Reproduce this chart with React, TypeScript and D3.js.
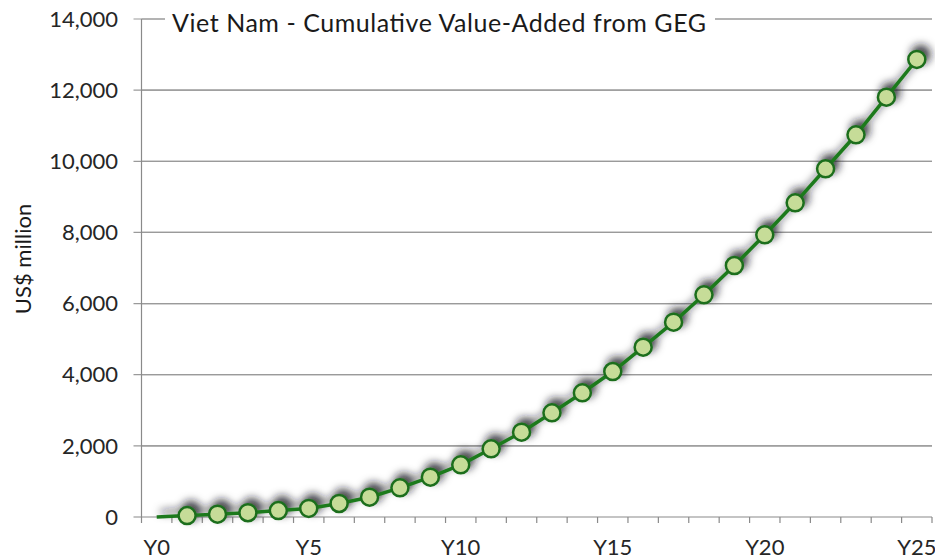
import React from "react";
import * as d3 from "d3";

const categories: string[] = Array.from({ length: 26 }, (_, i) => `Y${i}`);
const values: number[] = [
  0, 40, 80, 120, 180, 240, 380, 557, 820, 1120, 1467, 1917, 2384, 2930, 3492,
  4090, 4774, 5477, 6247, 7070, 7934, 8833, 9789, 10745, 11802, 12862,
];
const yTicks: number[] = [0, 2000, 4000, 6000, 8000, 10000, 12000, 14000];
const xLabelEvery = 5;
const title = "Viet Nam - Cumulative Value-Added from GEG";
const yTitle = "US$ million";

const W = 935;
const H = 560;
const M = { left: 141.5, right: 3, top: 19, bottom: 43 };
const FONT = "Lato, 'Open Sans', sans-serif";

export default function App() {
  const x = d3
    .scaleBand<string>()
    .domain(categories)
    .range([M.left, W - M.right])
    .padding(0);
  const y = d3
    .scaleLinear()
    .domain([0, 14000])
    .range([H - M.bottom, M.top]);
  const cx = (c: string) => (x(c) ?? 0) + x.bandwidth() / 2;
  const fmt = d3.format(",");
  const line = d3
    .line<number>()
    .x((_, i) => cx(categories[i]))
    .y((d) => y(d));
  const x0 = M.left;
  const x1 = W - M.right;
  const yBase = y(0);
  const boundaries = categories.map((c) => x(c) ?? 0).concat([x1]);

  return (
    <svg
      width={W}
      height={H}
      style={{ position: "absolute", left: 0, top: 0, background: "#fff" }}
      fontFamily={FONT}
    >
      <defs>
        <filter id="sh" x="-50%" y="-50%" width="200%" height="200%">
          <feDropShadow dx="4" dy="-5" stdDeviation="4.5" floodColor="#141420" floodOpacity="0.85" />
        </filter>
      </defs>
      {/* gridlines */}
      {yTicks.map((t) => (
        <g key={t}>
          <line x1={x0 - 8} x2={t === 0 ? x0 : x1} y1={y(t)} y2={y(t)} stroke="#9a9a9a" strokeWidth={1.2} />
          {t !== 0 && <line x1={x0} x2={x1} y1={y(t)} y2={y(t)} stroke="#9a9a9a" strokeWidth={1.2} />}
          <text x={118} y={y(t)} dy="0.35em" textAnchor="end" fontSize={22} fill="#262626">
            {fmt(t)}
          </text>
        </g>
      ))}
      {/* axes */}
      <line x1={x0} x2={x0} y1={M.top} y2={yBase} stroke="#8a8a8a" strokeWidth={1.2} />
      <line x1={x0} x2={x1} y1={yBase} y2={yBase} stroke="#8a8a8a" strokeWidth={1.2} />
      {boundaries.map((b, i) => (
        <line key={i} x1={b} x2={b} y1={yBase} y2={yBase + 6} stroke="#8a8a8a" strokeWidth={1.2} />
      ))}
      {categories.map((c, i) =>
        i % xLabelEvery === 0 ? (
          <text key={c} x={cx(c)} y={555} textAnchor="middle" fontSize={22} fill="#262626">
            {c}
          </text>
        ) : null
      )}
      {/* title with white background */}
      <rect x={165} y={6} width={550} height={30} fill="#fff" />
      <text x={172} y={32} fontSize={25} fill="#1a1a1a" textLength={534} lengthAdjust="spacing">
        {title}
      </text>
      {/* y title */}
      <text
        transform={`translate(31,259) rotate(-90)`}
        textAnchor="middle"
        fontSize={22}
        fill="#1a1a1a"
      >
        {yTitle}
      </text>
      {/* series */}
      <g filter="url(#sh)">
        <path d={line(values) ?? ""} fill="none" stroke="#1e7a1e" strokeWidth={3.5} />
        {values.map((v, i) =>
          i === 0 ? null : (
            <circle key={i} cx={cx(categories[i])} cy={y(v)} r={8.5} fill="#c6dc98" stroke="#1c6e1c" strokeWidth={2.5} />
          )
        )}
      </g>
    </svg>
  );
}
